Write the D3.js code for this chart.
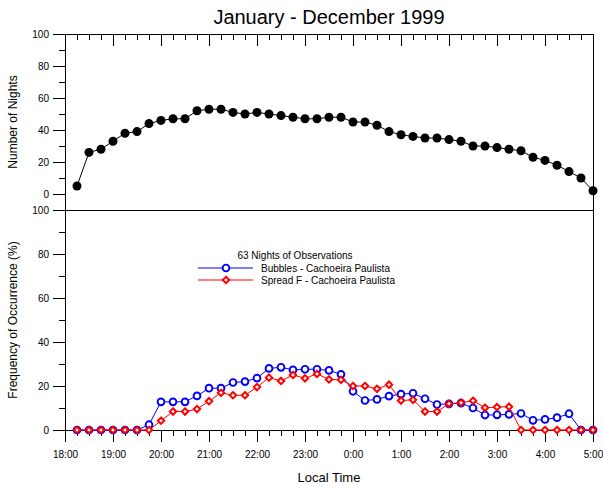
<!DOCTYPE html>
<html>
<head>
<meta charset="utf-8">
<script src="https://cdn.jsdelivr.net/npm/d3@7"></script>
<style>
  body { margin: 0; background: #fff; }
  svg { font-family: "Liberation Sans", Arial, Helvetica, sans-serif; }
  .axis path, .axis line { stroke: #000; stroke-width: 1; }
  .axis text { font-size: 10px; fill: #000; }
</style>
</head>
<body>
<script>
// local time of each 15 minute bin
const times = ["18:15","18:30","18:45","19:00","19:15","19:30","19:45","20:00","20:15","20:30","20:45",
  "21:00","21:15","21:30","21:45","22:00","22:15","22:30","22:45","23:00","23:15","23:30","23:45",
  "0:00","0:15","0:30","0:45","1:00","1:15","1:30","1:45","2:00","2:15","2:30","2:45","3:00","3:15",
  "3:30","3:45","4:00","4:15","4:30","4:45","5:00"];

const hourLabels = ["18:00","19:00","20:00","21:00","22:00","23:00","0:00","1:00","2:00","3:00","4:00","5:00"];

// number of nights observed
const nights = [5,26,28,33,38,39,44,46,47,47,52,53,53,51,50,51,50,49,48,47,47,48,48,45,45,43,39,37,36,35,
  35,34,33,30,30,29,28,27,23,21,18,14,10,2];

// frequency of occurrence (%)
const bubbles = [0,0,0,0,0,0,2.4,12.8,12.8,12.8,15.5,19,19,21.6,22,23.6,28,28.5,27.3,27.6,27.6,27.1,25.3,
  17.6,13.4,13.9,15.4,16.3,16.7,14.2,11.6,11.9,12.2,10,6.8,6.9,7.1,7.5,4.4,4.8,5.6,7.4,0,0];
const spreadF = [0,0,0,0,0,0,0,4.2,8.4,8.4,9.5,13.1,16.9,15.8,15.8,19.5,23.8,22.3,25,23.5,25.5,23,22.8,
  20,20,18.7,20.6,13.4,13.7,8.4,8.4,11.9,12.4,13.3,10.1,10.4,10.6,0,0,0,0,0,0,0];

const majorTicks = [0, 20, 40, 60, 80, 100];
const minorTicks = [10, 30, 50, 70, 90];

const width = 603, height = 488;
const pLeft = 65, pRight = 593, pTop = 34, pMid = 210, pBottom = 430;

// turn "h:mm" into hours after midnight of the first evening
const toHour = s => {
  let p = s.split(":"), h = +p[0] + (+p[1]) / 60;
  return h < 12 ? h + 24 : h;
};

let svg = d3.select("body").append("svg")
    .attr("width", width)
    .attr("height", height);

const x = d3.scaleLinear().domain([18, 29]).range([pLeft, pRight]);
const yTop = d3.scaleLinear().domain([-10, 100]).range([pMid, pTop]);
const yBot = d3.scaleLinear().domain([0, 100]).range([pBottom, pMid]);

const hours = hourLabels.map(toHour);
const quarters = d3.range(18, 29, 0.25).filter(h => h % 1 !== 0);

// title
svg.append("text")
    .attr("x", (pLeft + pRight) / 2).attr("y", 24)
    .attr("text-anchor", "middle")
    .style("font-size", "20px")
    .text("January - December 1999");

// top frame with ticks hanging inside
svg.append("g").attr("class", "axis")
    .attr("transform", "translate(0," + pTop + ")")
    .call(d3.axisBottom(x).tickValues(quarters).tickSize(6).tickSizeOuter(0).tickFormat(""));
svg.append("g").attr("class", "axis")
    .attr("transform", "translate(0," + pTop + ")")
    .call(d3.axisBottom(x).tickValues(hours).tickSize(12).tickSizeOuter(0).tickFormat(""));

// bottom axis
svg.append("g").attr("class", "axis")
    .attr("transform", "translate(0," + pBottom + ")")
    .call(d3.axisBottom(x).tickValues(quarters).tickSize(6).tickSizeOuter(0).tickFormat(""));
svg.append("g").attr("class", "axis")
    .attr("transform", "translate(0," + pBottom + ")")
    .call(d3.axisBottom(x).tickValues(hours).tickSize(12).tickSizeOuter(0).tickPadding(9)
      .tickFormat((d, i) => hourLabels[i]));

// separator between the panels and the right edge
svg.append("line")
    .attr("x1", pLeft).attr("x2", pRight + 0.5)
    .attr("y1", pMid + 0.5).attr("y2", pMid + 0.5)
    .attr("stroke", "#000");
svg.append("line")
    .attr("x1", pRight + 0.5).attr("x2", pRight + 0.5)
    .attr("y1", pTop).attr("y2", pBottom)
    .attr("stroke", "#000");

// left axes
svg.append("g").attr("class", "axis")
    .attr("transform", "translate(" + pLeft + ",0)")
    .call(d3.axisLeft(yTop).tickValues(minorTicks).tickSize(6).tickSizeOuter(0).tickFormat(""));
svg.append("g").attr("class", "axis")
    .attr("transform", "translate(" + pLeft + ",0)")
    .call(d3.axisLeft(yTop).tickValues(majorTicks).tickSize(12).tickSizeOuter(0).tickPadding(4));
svg.append("g").attr("class", "axis")
    .attr("transform", "translate(" + pLeft + ",0)")
    .call(d3.axisLeft(yBot).tickValues(minorTicks).tickSize(6).tickSizeOuter(0).tickFormat(""));
svg.append("g").attr("class", "axis")
    .attr("transform", "translate(" + pLeft + ",0)")
    .call(d3.axisLeft(yBot).tickValues(majorTicks).tickSize(12).tickSizeOuter(0).tickPadding(4));

// axis titles
svg.append("text")
    .attr("transform", "translate(17," + (yTop(45)) + ") rotate(-90)")
    .attr("text-anchor", "middle")
    .style("font-size", "12px")
    .text("Number of Nights");
svg.append("text")
    .attr("transform", "translate(17," + ((pMid + pBottom) / 2) + ") rotate(-90)")
    .attr("text-anchor", "middle")
    .style("font-size", "12px")
    .text("Frequency of Occurrence (%)");
svg.append("text")
    .attr("x", (pLeft + pRight) / 2).attr("y", 482)
    .attr("text-anchor", "middle")
    .style("font-size", "13px")
    .text("Local Time");

// top panel: number of nights
const nightLine = d3.line()
    .x(function(d, i) { return x(toHour(times[i])); })
    .y(function(d) { return yTop(d); });

svg.append("path")
    .datum(nights)
    .attr("fill", "none")
    .attr("stroke", "#000")
    .attr("d", nightLine);

svg.selectAll(".night")
    .data(nights)
  .enter().append("circle")
    .attr("class", "night")
    .attr("cx", (d, i) => x(toHour(times[i])))
    .attr("cy", d => yTop(d))
    .attr("r", 4.5)
    .attr("fill", "#000");

// bottom panel
const freqLine = d3.line()
    .x(function(d, i) { return x(toHour(times[i])); })
    .y(function(d) { return yBot(d); });

const diamond = s => "M0," + (-s) + "L" + s + ",0L0," + s + "L" + (-s) + ",0Z";

svg.append("path")
    .datum(bubbles)
    .attr("fill", "none")
    .attr("stroke", "#0000ff")
    .attr("d", freqLine);

svg.selectAll(".bubble")
    .data(bubbles)
  .enter().append("circle")
    .attr("class", "bubble")
    .attr("cx", (d, i) => x(toHour(times[i])))
    .attr("cy", d => yBot(d))
    .attr("r", 3.4)
    .attr("fill", "#fff")
    .attr("stroke", "#0000ff")
    .attr("stroke-width", 1.9);

svg.append("path")
    .datum(spreadF)
    .attr("fill", "none")
    .attr("stroke", "#ff0000")
    .attr("d", freqLine);

svg.selectAll(".spread")
    .data(spreadF)
  .enter().append("path")
    .attr("class", "spread")
    .attr("transform", (d, i) => "translate(" + x(toHour(times[i])) + "," + yBot(d) + ")")
    .attr("d", diamond(3.2))
    .attr("fill", "#fff")
    .attr("stroke", "#ff0000")
    .attr("stroke-width", 2);

// legend
let legend = svg.append("g").style("font-size", "10px");
legend.append("text")
    .attr("x", 295).attr("y", 259)
    .attr("text-anchor", "middle")
    .text("63 Nights of Observations");

legend.append("line")
    .attr("x1", 198).attr("x2", 253).attr("y1", 268).attr("y2", 268)
    .attr("stroke", "#0000ff");
legend.append("circle")
    .attr("cx", 226).attr("cy", 268).attr("r", 3.4)
    .attr("fill", "#fff").attr("stroke", "#0000ff").attr("stroke-width", 1.9);
legend.append("text")
    .attr("x", 261).attr("y", 271.5)
    .text("Bubbles - Cachoeira Paulista");

legend.append("line")
    .attr("x1", 198).attr("x2", 253).attr("y1", 280).attr("y2", 280)
    .attr("stroke", "#ff0000");
legend.append("path")
    .attr("transform", "translate(226,280)")
    .attr("d", diamond(3.2))
    .attr("fill", "#fff").attr("stroke", "#ff0000").attr("stroke-width", 2);
legend.append("text")
    .attr("x", 261).attr("y", 283.5)
    .text("Spread F - Cachoeira Paulista");
</script>
</body>
</html>
